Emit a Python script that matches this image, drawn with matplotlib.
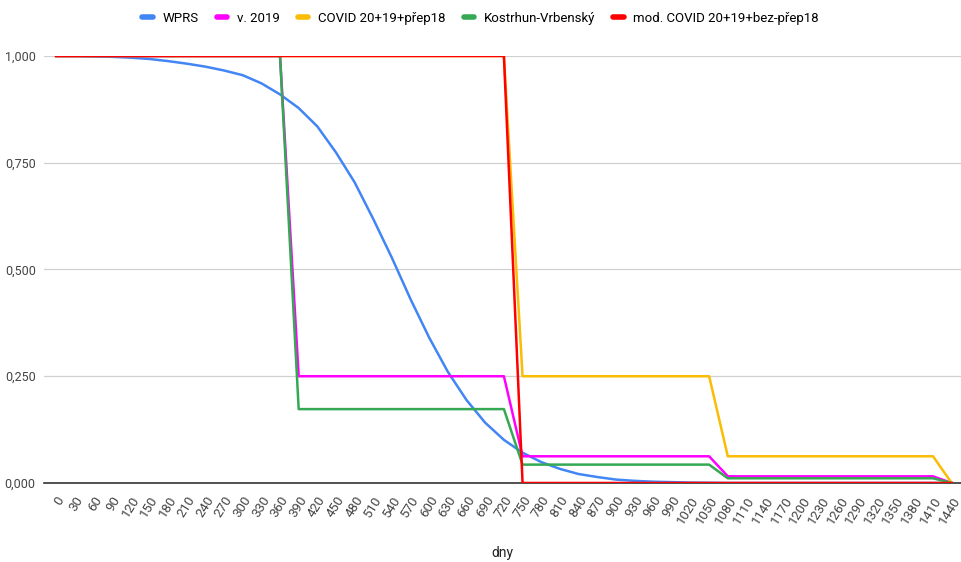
import matplotlib.pyplot as plt
from matplotlib.lines import Line2D
from matplotlib.ticker import FuncFormatter

# Data
dny = list(range(0, 1441, 30))

wprs = [1.000, 1.000, 0.999, 0.998, 0.996, 0.993, 0.988, 0.982, 0.975, 0.966,
        0.955, 0.936, 0.910, 0.878, 0.835, 0.774, 0.704, 0.618, 0.527, 0.430,
        0.340, 0.260, 0.194, 0.141, 0.101, 0.071, 0.049, 0.033, 0.021, 0.014,
        0.008, 0.005, 0.003, 0.002, 0.001, 0.0005, 0, 0, 0, 0,
        0, 0, 0, 0, 0, 0, 0, 0, 0]
v2019 = [1.0] * 13 + [0.25] * 12 + [0.0625] * 11 + [0.015625] * 12 + [0.0]
covid = [1.0] * 25 + [0.25] * 11 + [0.0625] * 12 + [0.0]
kostrhun = [1.0] * 13 + [0.173] * 12 + [0.043] * 11 + [0.011] * 12 + [0.0]
mod_covid = [1.0] * 25 + [0.0] * 24

names = ['WPRS', 'v. 2019', 'COVID 20+19+přep18', 'Kostrhun-Vrbenský',
         'mod. COVID 20+19+bez-přep18']
series = [wprs, v2019, covid, kostrhun, mod_covid]
barvy = ['#4285F4', '#FF00FF', '#FBBC04', '#34A853', '#FF0000']

plt.rcParams['font.family'] = ['Roboto', 'DejaVu Sans']

fig = plt.figure(figsize=(9.61, 5.62), dpi=100)
ax = fig.add_axes([0.0458, 0.1406, 0.9542, 0.7598])

x = list(range(len(dny)))
for s, c in zip(series, barvy):
    ax.plot(x, s, color=c, linewidth=1.8, solid_joinstyle='round')

ax.set_xlim(-0.65, len(dny) - 0.5)
ax.set_ylim(0, 1.0)
ax.set_xticks(x)
ax.set_xticklabels([str(d) for d in dny], rotation=58, ha='right',
                   rotation_mode='anchor', fontsize=9.5, color='#444444')
ax.set_yticks([0, 0.25, 0.5, 0.75, 1.0])
ax.yaxis.set_major_formatter(FuncFormatter(lambda v, p: f'{v:.3f}'.replace('.', ',')))
ax.tick_params(axis='y', length=0, labelsize=9, labelcolor='#444444', pad=6)
ax.tick_params(axis='x', length=0, pad=8)

ax.grid(axis='y', color='#d0d0d0', linewidth=0.9)
ax.set_axisbelow(True)
for sp in ['top', 'right', 'left']:
    ax.spines[sp].set_visible(False)
ax.spines['bottom'].set_color('#333333')
ax.spines['bottom'].set_linewidth(1.2)
ax.spines['bottom'].set_zorder(1)

ax.set_xlabel('dny', fontsize=10, color='#222222', labelpad=14)

handles = [Line2D([], [], color=c, linewidth=4, solid_capstyle='round') for c in barvy]
fig.legend(handles, names, loc='upper center', bbox_to_anchor=(0.5, 1.0),
           ncol=5, frameon=False, fontsize=9.5, handlelength=0.8,
           handletextpad=0.7, columnspacing=1.4)

fig.savefig('out.png', dpi=100)
